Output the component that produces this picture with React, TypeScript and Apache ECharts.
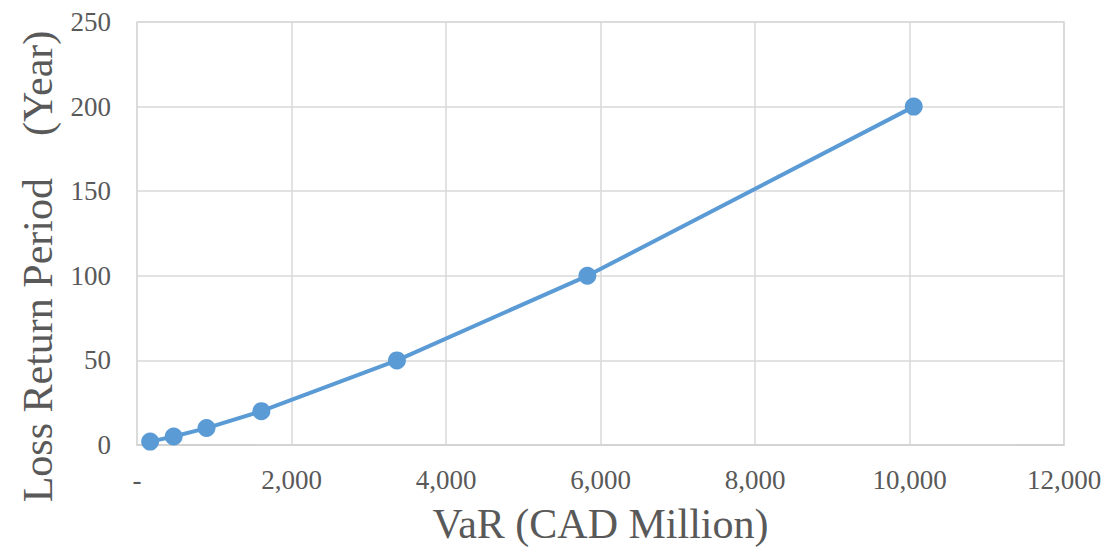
import React, { useEffect, useRef } from "react";
import * as echarts from "echarts";

const varValues = [170, 475, 900, 1610, 3365, 5830, 10055];
const returnPeriods = [2, 5, 10, 20, 50, 100, 200];
const xTicks = { min: 0, max: 12000, interval: 2000 };
const yTicks = { min: 0, max: 250, interval: 50 };

export default function App() {
  const ref = useRef<HTMLDivElement>(null);
  useEffect(() => {
    if (!ref.current) return;
    const chart = echarts.init(ref.current, null, { renderer: "svg" });
    const font = "'Liberation Serif', 'Times New Roman', serif";
    chart.setOption({
      animation: false,
      backgroundColor: "#ffffff",
      grid: {
        left: 137,
        right: 46,
        top: 22,
        bottom: 107,
        outerBoundsMode: "none",
        containLabel: false,
        show: true,
        borderColor: "#d9d9d9",
        borderWidth: 1.5,
      },
      xAxis: {
        type: "value",
        min: xTicks.min,
        max: xTicks.max,
        interval: xTicks.interval,
        name: "VaR (CAD Million)",
        nameLocation: "middle",
        nameGap: 58,
        nameTextStyle: { fontFamily: font, fontSize: 42, color: "#595959" },
        axisLine: { show: true, lineStyle: { color: "#d0d0d0", width: 1.5 } },
        axisTick: { show: false },
        splitLine: { show: true, lineStyle: { color: "#d9d9d9", width: 1.5 } },
        axisLabel: {
          fontFamily: font,
          fontSize: 27,
          color: "#595959",
          margin: 21,
          formatter: (v: number) => (v === 0 ? "-" : v.toLocaleString("en-US")),
        },
      },
      yAxis: {
        type: "value",
        min: yTicks.min,
        max: yTicks.max,
        interval: yTicks.interval,
        name: "Loss Return Period\u3000(Year)",
        nameLocation: "middle",
        nameGap: 78,
        nameTextStyle: { fontFamily: font, fontSize: 42, color: "#595959", padding: [0, 66, 0, 0] },
        axisLine: { show: false },
        axisTick: { show: false },
        splitLine: { show: true, lineStyle: { color: "#d9d9d9", width: 1.5 } },
        axisLabel: { fontFamily: font, fontSize: 27, color: "#595959", margin: 26 },
      },
      series: [
        {
          type: "line",
          data: varValues.map((v, i) => [v, returnPeriods[i]]),
          symbol: "circle",
          symbolSize: 18,
          lineStyle: { color: "#5b9bd5", width: 4 },
          itemStyle: { color: "#5b9bd5" },
        },
      ],
    });
    return () => chart.dispose();
  }, []);
  return (
    <div
      ref={ref}
      style={{ position: "absolute", left: 0, top: 0, width: 1110, height: 552 }}
    />
  );
}
